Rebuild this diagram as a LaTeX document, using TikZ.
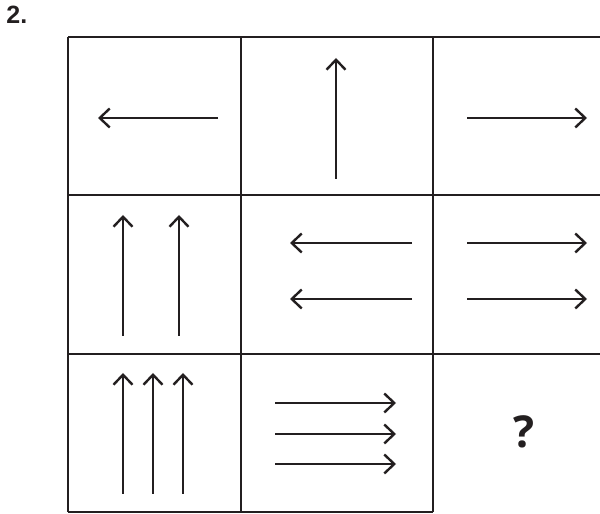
\documentclass[tikz,border=0pt]{standalone}
\usepackage{fontspec}
\setmainfont{Liberation Sans}
\newfontfamily\qfont{Open Sans}
\usetikzlibrary{arrows.meta}
\definecolor{ink}{HTML}{231F20}
\begin{document}
\begin{tikzpicture}[
    x=0.5pt, y=0.5pt,
    grid/.style={draw=ink, line width=1.35pt},
    arr/.style={draw=ink, line width=1.2pt, -{Straight Barb[length=5pt, width=9.5pt, line width=1.2pt]}}
]
\useasboundingbox (0,0) rectangle (600,514);
\node[anchor=west, inner sep=0pt, font=\bfseries\fontsize{12.5}{14}\selectfont, text=ink] (num) at (6,499) {2.};
% grid
\draw[grid] (68,477) -- (600,477);
\draw[grid] (68,319) -- (600,319);
\draw[grid] (68,160) -- (600,160);
\draw[grid] (68,2) -- (433,2);
\foreach \x in {68,241,433}
  \draw[grid] (\x,477) -- (\x,2);
% row 1
\draw[arr] (218,396) -- (98,396);
\draw[arr] (336,335) -- (336,456);
\draw[arr] (467,396) -- (587,396);
% row 2
\foreach \x in {123,179}
  \draw[arr] (\x,178) -- (\x,299);
\foreach \y in {271,215}
  \draw[arr] (412,\y) -- (290,\y);
\foreach \y in {271,215}
  \draw[arr] (467,\y) -- (587,\y);
% row 3
\foreach \x in {123,153,183}
  \draw[arr] (\x,20) -- (\x,141);
\foreach \y in {111,80,50}
  \draw[arr] (275,\y) -- (396,\y);
\node[inner sep=0pt, font=\qfont\bfseries\fontsize{22}{26}\selectfont, text=ink] (ask) at (524,82) {?};
\end{tikzpicture}
\end{document}
